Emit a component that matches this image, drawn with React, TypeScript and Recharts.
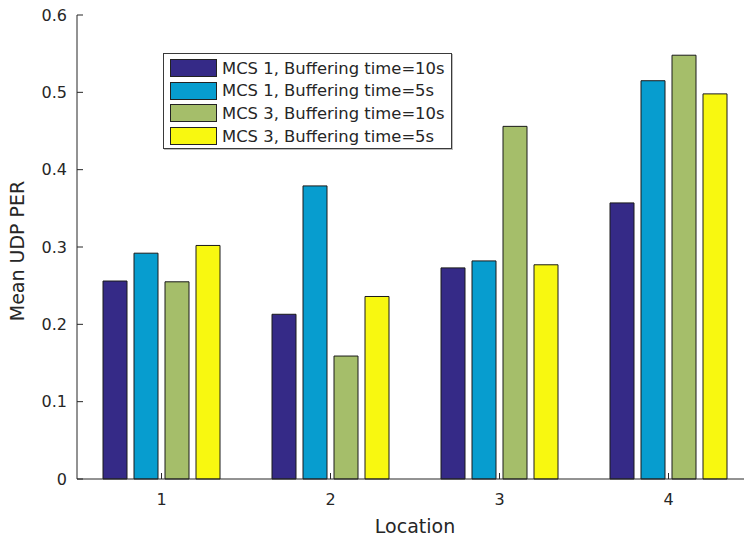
import { BarChart, Bar, XAxis, YAxis, Legend, Label } from "recharts";

const locations = ["1", "2", "3", "4"];
const mcs1Buf10 = [0.256, 0.213, 0.273, 0.357];
const mcs1Buf5 = [0.292, 0.379, 0.282, 0.515];
const mcs3Buf10 = [0.255, 0.159, 0.456, 0.548];
const mcs3Buf5 = [0.302, 0.236, 0.277, 0.498];
const yTicks = [0, 0.1, 0.2, 0.3, 0.4, 0.5, 0.6];

const series = [
  { key: "mcs1b10", name: "MCS 1, Buffering time=10s", color: "#352a87", values: mcs1Buf10 },
  { key: "mcs1b5", name: "MCS 1, Buffering time=5s", color: "#079dcf", values: mcs1Buf5 },
  { key: "mcs3b10", name: "MCS 3, Buffering time=10s", color: "#a5be6a", values: mcs3Buf10 },
  { key: "mcs3b5", name: "MCS 3, Buffering time=5s", color: "#f8f810", values: mcs3Buf5 },
];

const data = locations.map((loc, i) => {
  const row: Record<string, string | number> = { loc };
  series.forEach((s) => (row[s.key] = s.values[i]));
  return row;
});

const FONT = "'DejaVu Sans', Arial, sans-serif";
const INK = "#262626";

const renderLegend = () => (
  <div
    style={{
      width: 289,
      boxSizing: "border-box",
      border: "1px solid #3a3a3a",
      boxShadow: "1px 1px 0 #bdbdbd",
      background: "#fff",
      padding: "3px 6px 1px 6px",
    }}
  >
    {series.map((s) => (
      <div key={s.key} style={{ display: "flex", alignItems: "center", height: 22.6 }}>
        <span
          style={{
            width: 47,
            height: 18,
            boxSizing: "border-box",
            background: s.color,
            border: "1px solid #222",
            flex: "none",
          }}
        />
        <span
          style={{
            marginLeft: 5,
            fontFamily: FONT,
            fontSize: 16.4,
            color: INK,
            whiteSpace: "nowrap",
          }}
        >
          {s.name}
        </span>
      </div>
    ))}
  </div>
);

// top box edge: tick marks only, no labels
const noLabel = () => <g />;

export default function App() {
  return (
    <div
      style={{
        position: "absolute",
        left: 0,
        top: 0,
        width: 744,
        height: 538,
        overflow: "hidden",
        background: "#fff",
      }}
    >
      <BarChart
        width={760}
        height={538}
        data={data}
        margin={{ top: 15, right: 7, left: 0, bottom: 0 }}
        barSize={24}
        barGap={7}
      >
        <XAxis
          dataKey="loc"
          height={59}
          tickSize={-6}
          tickMargin={21}
          axisLine={{ stroke: INK }}
          tickLine={{ stroke: INK }}
          tick={{ fill: INK, fontSize: 16, fontFamily: FONT }}
        >
          <Label
            value="Location"
            position="insideBottom"
            offset={5}
            style={{ fill: INK, fontSize: 19, fontFamily: FONT }}
          />
        </XAxis>
        <XAxis
          xAxisId="top"
          dataKey="loc"
          orientation="top"
          height={0}
          tick={noLabel}
          tickSize={-6}
          axisLine={{ stroke: "#9a9a9a" }}
          tickLine={{ stroke: INK }}
        />
        <YAxis
          width={77}
          domain={[0, 0.6]}
          ticks={yTicks}
          interval={0}
          tickSize={-6}
          tickMargin={16}
          axisLine={{ stroke: INK }}
          tickLine={{ stroke: INK }}
          tick={{ fill: INK, fontSize: 16, fontFamily: FONT }}
          tickFormatter={(v: number) => (v === 0 ? "0" : v.toFixed(1))}
        >
          <Label
            value="Mean UDP PER"
            angle={-90}
            position="center"
            dx={-21}
            dy={4}
            style={{ fill: INK, fontSize: 19, fontFamily: FONT, textAnchor: "middle" }}
          />
        </YAxis>
        <Legend
          layout="horizontal"
          verticalAlign="middle"
          align="center"
          content={renderLegend}
          wrapperStyle={{ left: 163, top: 53, width: 289 }}
        />
        {series.map((s) => (
          <Bar
            key={s.key}
            dataKey={s.key}
            name={s.name}
            fill={s.color}
            stroke="#1a1a1a"
            strokeWidth={1}
            isAnimationActive={false}
          />
        ))}
      </BarChart>
    </div>
  );
}
